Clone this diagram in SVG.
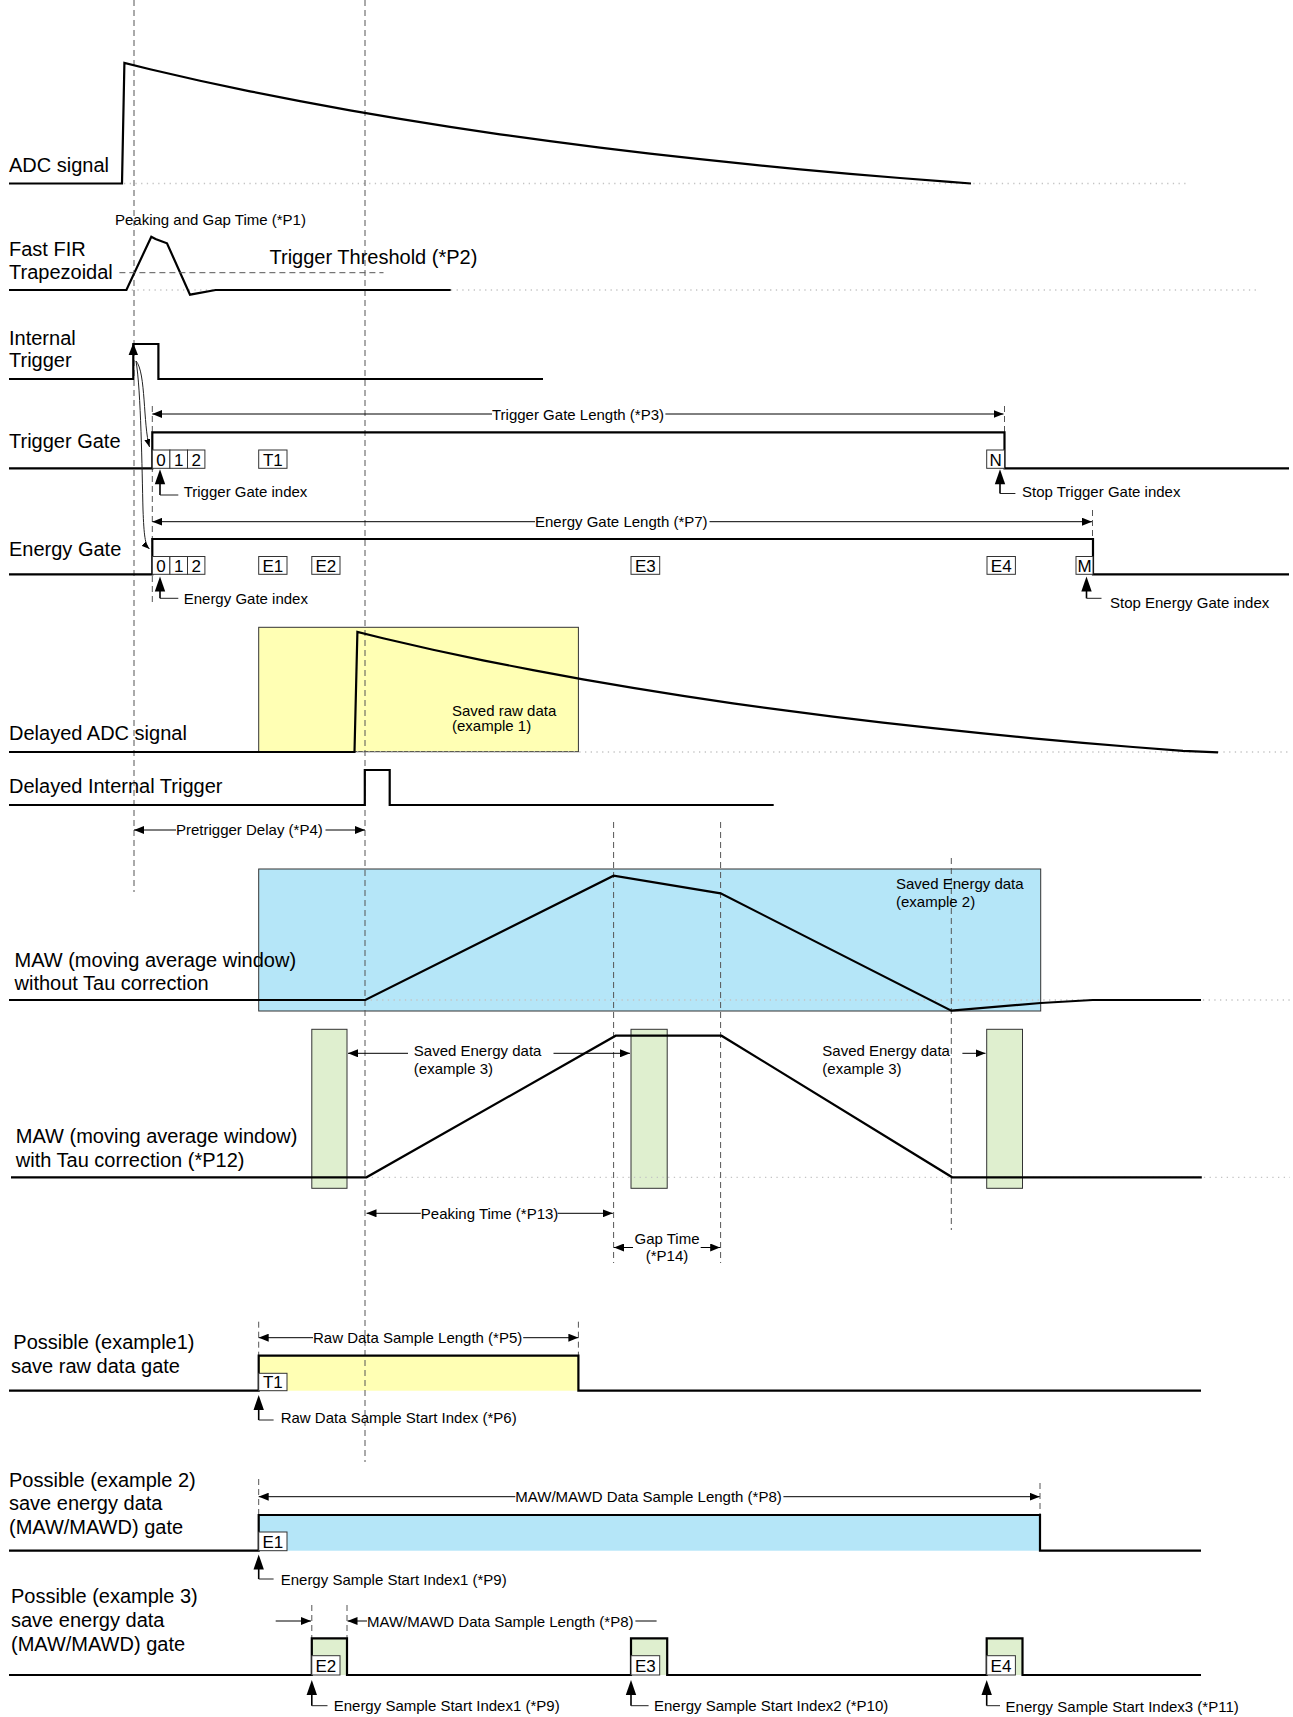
<svg xmlns="http://www.w3.org/2000/svg" width="1293" height="1717" viewBox="0 0 1293 1717">
<style>
text{font-family:"Liberation Sans",Arial,sans-serif;fill:#000}
.lb{font-size:20px}
.sm{font-size:15px}
.bx{font-size:17px;text-anchor:middle}
.mid{text-anchor:middle}
.sig{fill:none;stroke:#000;stroke-width:2.2;stroke-linejoin:miter}
.dash{fill:none;stroke:#555;stroke-width:1;stroke-dasharray:6 4}
.dot{fill:none;stroke:#c4c4c4;stroke-width:1.3;stroke-dasharray:1.3 4.4}
.dim{fill:none;stroke:#000;stroke-width:1}
.thin{fill:none;stroke:#222;stroke-width:1}
.stem{fill:none;stroke:#000;stroke-width:1.6}
.box{fill:#fff;stroke:#333;stroke-width:1}
.yel{fill:#ffffb4}
.blu{fill:#b5e6f8}
.grn{fill:#dfefcf}
.ol{stroke:#333;stroke-width:1}
</style>
<defs>
<marker id="ah" viewBox="0 0 10 8" refX="10" refY="4" markerWidth="10" markerHeight="8" markerUnits="userSpaceOnUse" orient="auto-start-reverse"><path d="M0,0 L10,4 L0,8 z" fill="#000"/></marker>
<marker id="ahs" viewBox="0 0 8 6" refX="8" refY="3" markerWidth="8" markerHeight="6" markerUnits="userSpaceOnUse" orient="auto"><path d="M0,0 L8,3 L0,6 z" fill="#000"/></marker>
<path id="uparrow" d="M0,0 L5.2,15 L-5.2,15 z" fill="#000"/>
</defs>
<rect width="1293" height="1717" fill="#fff"/>

<g id="saved-data-areas">
<rect class="yel ol" x="258.7" y="627.3" width="319.7" height="124.4"/>
<rect class="blu ol" x="258.7" y="869" width="782" height="142"/>
<rect class="grn ol" x="311.8" y="1029.3" width="35.2" height="159"/>
<rect class="grn ol" x="631" y="1029.3" width="36.2" height="159"/>
<rect class="grn ol" x="986.7" y="1029.3" width="35.8" height="159"/>
<rect class="yel" x="258.7" y="1355.7" width="319.7" height="35"/>
<rect class="blu" x="258.7" y="1515" width="781.3" height="35.7"/>
<rect class="grn" x="311.8" y="1638.3" width="35.2" height="36.7"/>
<rect class="grn" x="631" y="1638.3" width="36.2" height="36.7"/>
<rect class="grn" x="986.7" y="1638.3" width="35.8" height="36.7"/>
</g>

<g id="guides">
<line class="dot" x1="124" y1="183.5" x2="1186" y2="183.5"/>
<line class="dot" x1="126" y1="290" x2="1259" y2="290"/>
<line class="dot" x1="357" y1="752" x2="1290" y2="752"/>
<line class="dot" x1="365" y1="1000" x2="1290" y2="1000"/>
<line class="dot" x1="366" y1="1177.3" x2="1290" y2="1177.3"/>
<line class="dash" x1="134" y1="0" x2="134" y2="892"/>
<line class="dash" x1="365" y1="0" x2="365" y2="1462"/>
<line class="dash" x1="152.3" y1="406" x2="152.3" y2="602"/>
<line class="dash" x1="1004.5" y1="406" x2="1004.5" y2="432"/>
<line class="dash" x1="1092.5" y1="510" x2="1092.5" y2="539"/>
<line class="dash" x1="613.6" y1="822" x2="613.6" y2="1263"/>
<line class="dash" x1="720.6" y1="822" x2="720.6" y2="1263"/>
<line class="dash" x1="951.3" y1="858" x2="951.3" y2="1230"/>
<line class="dash" x1="258.7" y1="1321.7" x2="258.7" y2="1356"/>
<line class="dash" x1="578.4" y1="1321.7" x2="578.4" y2="1356"/>
<line class="dash" x1="258.7" y1="1479" x2="258.7" y2="1515"/>
<line class="dash" x1="1040" y1="1483" x2="1040" y2="1515"/>
<line class="dash" x1="311.8" y1="1605" x2="311.8" y2="1638"/>
<line class="dash" x1="347" y1="1605" x2="347" y2="1638"/>
</g>

<g id="row-adc">
<path class="sig" d="M9,183.5 H122 L124.4,63 L150,69.3 L200,80.7 L250,91.3 L300,101.2 L350,110.4 L400,118.9 L450,126.9 L500,134.3 L550,141.2 L600,147.7 L650,153.7 L700,159.2 L750,164.4 L800,169.3 L850,173.8 L900,178 L950,181.9 L971,183.5"/>
<text class="lb" x="9" y="172">ADC signal</text>
</g>

<g id="row-fir">
<path class="sig" d="M9,290 H126.4 L151.3,236.7 L155.5,239 L167,243.3 L190,294.7 L215.6,290 H450.7"/>
<line class="dash" x1="119.4" y1="272.7" x2="383.5" y2="272.7"/>
<text class="sm" x="115" y="225">Peaking and Gap Time (*P1)</text>
<text class="lb" x="9" y="256">Fast FIR</text>
<text class="lb" x="9" y="279">Trapezoidal</text>
<text class="lb" x="269.5" y="264">Trigger Threshold (*P2)</text>
</g>

<g id="row-internal-trigger">
<path class="sig" d="M9,379 H133.3 V344 H158.4 V379 H543"/>
<path d="M133.3,343 L138,355 L128.6,355 z" fill="#000"/>
<text class="lb" x="9" y="345">Internal</text>
<text class="lb" x="9" y="367">Trigger</text>
</g>

<g id="row-trigger-gate">
<path class="sig" d="M9,468.3 H152.3 V432.3 H1004.5 V468.3 H1289"/>
<rect class="box" x="152.3" y="450" width="17.6" height="18.3"/>
<rect class="box" x="169.9" y="450" width="17.6" height="18.3"/>
<rect class="box" x="187.5" y="450" width="17.4" height="18.3"/>
<rect class="box" x="258.7" y="450" width="28.3" height="18.3"/>
<rect class="box" x="986.7" y="450" width="17.8" height="18.3"/>
<text class="bx" x="161.1" y="465.5">0</text>
<text class="bx" x="178.7" y="465.5">1</text>
<text class="bx" x="196.2" y="465.5">2</text>
<text class="bx" x="272.9" y="465.5">T1</text>
<text class="bx" x="995.6" y="465.5">N</text>
<text class="lb" x="9" y="448">Trigger Gate</text>
<text class="sm" x="183.7" y="497">Trigger Gate index</text>
<text class="sm" x="1022" y="496.5">Stop Trigger Gate index</text>
<text class="sm" x="492" y="419.5">Trigger Gate Length (*P3)</text>
</g>

<g id="row-energy-gate">
<path class="sig" d="M9,574.3 H152.3 V539 H1093 V574.3 H1289"/>
<rect class="box" x="152.3" y="556.5" width="17.6" height="17.8"/>
<rect class="box" x="169.9" y="556.5" width="17.6" height="17.8"/>
<rect class="box" x="187.5" y="556.5" width="17.4" height="17.8"/>
<rect class="box" x="258.7" y="556.5" width="28.3" height="17.8"/>
<rect class="box" x="311.8" y="556.5" width="28.2" height="17.8"/>
<rect class="box" x="631" y="556.5" width="28.7" height="17.8"/>
<rect class="box" x="987" y="556.5" width="28.4" height="17.8"/>
<rect class="box" x="1076" y="556.5" width="17" height="17.8"/>
<text class="bx" x="161.1" y="572">0</text>
<text class="bx" x="178.7" y="572">1</text>
<text class="bx" x="196.2" y="572">2</text>
<text class="bx" x="272.9" y="572">E1</text>
<text class="bx" x="325.9" y="572">E2</text>
<text class="bx" x="645.4" y="572">E3</text>
<text class="bx" x="1001.2" y="572">E4</text>
<text class="bx" x="1084.5" y="572">M</text>
<text class="lb" x="9" y="555.5">Energy Gate</text>
<text class="sm" x="183.7" y="603.5">Energy Gate index</text>
<text class="sm" x="1110" y="607.5">Stop Energy Gate index</text>
<text class="sm" x="535" y="526.5">Energy Gate Length (*P7)</text>
</g>

<g id="row-delayed-adc">
<path class="sig" d="M9,752 H354.5 L357.4,632 L383,638.3 L433,649.7 L483,660.3 L533,670.2 L583,679.4 L633,687.9 L683,695.9 L733,703.3 L783,710.2 L833,716.7 L883,722.7 L933,728.2 L983,733.4 L1033,738.3 L1083,742.8 L1133,747 L1183,750.9 L1218,752.3"/>
<text class="sm" x="452" y="716">Saved raw data</text>
<text class="sm" x="452" y="731">(example 1)</text>
<text class="lb" x="9" y="740">Delayed ADC signal</text>
</g>

<g id="row-delayed-trigger">
<path class="sig" d="M9,805 H364.8 V770 H389.7 V805 H773.7"/>
<text class="lb" x="9" y="792.5">Delayed Internal Trigger</text>
<text class="sm" x="176" y="835">Pretrigger Delay (*P4)</text>
</g>

<g id="row-maw">
<path class="sig" d="M9,1000 H365.3 L613.6,875.7 L720.6,893.3 L951.3,1010.7 L1040.7,1003 L1092.7,1000 H1201"/>
<text class="sm" x="896" y="888.5">Saved Energy data</text>
<text class="sm" x="896" y="906.5">(example 2)</text>
<text class="lb" x="14.5" y="966.5">MAW (moving average window)</text>
<text class="lb" x="14.5" y="990">without Tau correction</text>
</g>

<g id="row-maw-tau">
<path class="sig" d="M11,1177.3 H366.5 L615.7,1035.7 H721.5 L952.2,1177.3 H1201.8"/>
<text class="sm" x="413.8" y="1056">Saved Energy data</text>
<text class="sm" x="413.8" y="1073.5">(example 3)</text>
<text class="sm" x="822.3" y="1056">Saved Energy data</text>
<text class="sm" x="822.3" y="1073.5">(example 3)</text>
<text class="lb" x="15.8" y="1143.3">MAW (moving average window)</text>
<text class="lb" x="15.8" y="1167">with Tau correction (*P12)</text>
<text class="sm" x="420.8" y="1218.5">Peaking Time (*P13)</text>
<text class="sm mid" x="667" y="1244">Gap Time</text>
<text class="sm mid" x="667" y="1261">(*P14)</text>
</g>

<g id="row-example1">
<path class="sig" d="M9,1390.7 H258.7 V1355.7 H578.4 V1390.7 H1201"/>
<rect class="box" x="258.7" y="1373.3" width="28.3" height="17.4"/>
<text class="bx" x="272.9" y="1388.3">T1</text>
<text class="lb" x="13.3" y="1349.3">Possible (example1)</text>
<text class="lb" x="11" y="1372.7">save raw data gate</text>
<text class="sm" x="313" y="1343">Raw Data Sample Length (*P5)</text>
<text class="sm" x="280.7" y="1423">Raw Data Sample Start Index (*P6)</text>
</g>

<g id="row-example2">
<path class="sig" d="M9,1550.7 H258.7 V1515 H1040 V1550.7 H1201"/>
<rect class="box" x="258.7" y="1532" width="28.3" height="18.7"/>
<text class="bx" x="272.9" y="1547.8">E1</text>
<text class="lb" x="9" y="1486.7">Possible (example 2)</text>
<text class="lb" x="9" y="1510">save energy data</text>
<text class="lb" x="9" y="1533.5">(MAW/MAWD) gate</text>
<text class="sm" x="515.3" y="1502">MAW/MAWD Data Sample Length (*P8)</text>
<text class="sm" x="280.7" y="1584.5">Energy Sample Start Index1 (*P9)</text>
</g>

<g id="row-example3">
<path class="sig" d="M9,1675 H311.8 V1638.3 H347 V1675 H631 V1638.3 H667.2 V1675 H986.7 V1638.3 H1022.5 V1675 H1201"/>
<rect class="box" x="311.8" y="1655.7" width="28.2" height="19.3"/>
<rect class="box" x="631" y="1655.7" width="28.7" height="19.3"/>
<rect class="box" x="986.7" y="1655.7" width="28.7" height="19.3"/>
<text class="bx" x="325.9" y="1671.5">E2</text>
<text class="bx" x="645.4" y="1671.5">E3</text>
<text class="bx" x="1001" y="1671.5">E4</text>
<text class="lb" x="11" y="1603.3">Possible (example 3)</text>
<text class="lb" x="11" y="1626.7">save energy data</text>
<text class="lb" x="11" y="1650.5">(MAW/MAWD) gate</text>
<text class="sm" x="367" y="1626.5">MAW/MAWD Data Sample Length (*P8)</text>
<text class="sm" x="333.7" y="1711">Energy Sample Start Index1 (*P9)</text>
<text class="sm" x="654" y="1711">Energy Sample Start Index2 (*P10)</text>
<text class="sm" x="1005.6" y="1711.5">Energy Sample Start Index3 (*P11)</text>
</g>

<g id="connectors">
<path class="thin" d="M136,361 C146,372 143,425 149.5,447" marker-end="url(#ahs)"/>
<path class="thin" d="M136,361 C141,390 142,470 143,510 C144,535 145,545 149.5,549" marker-end="url(#ahs)"/>
<line class="dim" x1="152.3" y1="414" x2="492" y2="414" marker-start="url(#ah)"/>
<line class="dim" x1="665.4" y1="414" x2="1003.5" y2="414" marker-end="url(#ah)"/>
<line class="dim" x1="152.3" y1="521.7" x2="535" y2="521.7" marker-start="url(#ah)"/>
<line class="dim" x1="709.5" y1="521.7" x2="1092" y2="521.7" marker-end="url(#ah)"/>
<line class="dim" x1="134" y1="830" x2="176" y2="830" marker-start="url(#ah)"/>
<line class="dim" x1="325.5" y1="830" x2="365" y2="830" marker-end="url(#ah)"/>
<line class="dim" x1="408" y1="1053.3" x2="348" y2="1053.3" marker-end="url(#ah)"/>
<line class="dim" x1="553.5" y1="1053.3" x2="630" y2="1053.3" marker-end="url(#ah)"/>
<line class="dim" x1="962.4" y1="1053.3" x2="985.5" y2="1053.3" marker-end="url(#ah)"/>
<line class="dim" x1="366.5" y1="1213.3" x2="420.8" y2="1213.3" marker-start="url(#ah)"/>
<line class="dim" x1="557.6" y1="1213.3" x2="612.8" y2="1213.3" marker-end="url(#ah)"/>
<line class="dim" x1="633" y1="1247.5" x2="614" y2="1247.5" marker-end="url(#ah)"/>
<line class="dim" x1="700.7" y1="1247.5" x2="720.2" y2="1247.5" marker-end="url(#ah)"/>
<line class="dim" x1="258.7" y1="1337.7" x2="313" y2="1337.7" marker-start="url(#ah)"/>
<line class="dim" x1="523.2" y1="1337.7" x2="578.4" y2="1337.7" marker-end="url(#ah)"/>
<line class="dim" x1="258.7" y1="1496.7" x2="515.3" y2="1496.7" marker-start="url(#ah)"/>
<line class="dim" x1="783.4" y1="1496.7" x2="1039.7" y2="1496.7" marker-end="url(#ah)"/>
<line class="dim" x1="275.7" y1="1621" x2="311" y2="1621" marker-end="url(#ah)"/>
<line class="dim" x1="367" y1="1621" x2="347.5" y2="1621" marker-end="url(#ah)"/>
<line class="dim" x1="635.4" y1="1621" x2="656.6" y2="1621"/>
<use href="#uparrow" x="160" y="469.3"/>
<path class="stem" d="M160,484 V495"/><path class="thin" d="M160,495 H178.3"/>
<use href="#uparrow" x="1000" y="469.3"/>
<path class="stem" d="M1000,484 V493.5"/><path class="thin" d="M1000,493.5 H1015.4"/>
<use href="#uparrow" x="160" y="576.5"/>
<path class="stem" d="M160,591 V598.3"/><path class="thin" d="M160,598.3 H178.3"/>
<use href="#uparrow" x="1086.5" y="576.5"/>
<path class="stem" d="M1086.5,591 V598.3"/><path class="thin" d="M1086.5,598.3 H1101.5"/>
<use href="#uparrow" x="258.7" y="1395"/>
<path class="stem" d="M258.7,1409 V1420"/><path class="thin" d="M258.7,1420 H273.6"/>
<use href="#uparrow" x="258.7" y="1554.5"/>
<path class="stem" d="M258.7,1569 V1579"/><path class="thin" d="M258.7,1579 H273.6"/>
<use href="#uparrow" x="311.8" y="1680"/>
<path class="stem" d="M311.8,1694 V1705.7"/><path class="thin" d="M311.8,1705.7 H327.5"/>
<use href="#uparrow" x="631" y="1680"/>
<path class="stem" d="M631,1694 V1705.7"/><path class="thin" d="M631,1705.7 H648.6"/>
<use href="#uparrow" x="986.7" y="1680"/>
<path class="stem" d="M986.7,1694 V1705.7"/><path class="thin" d="M986.7,1705.7 H1000"/>
</g>
</svg>
